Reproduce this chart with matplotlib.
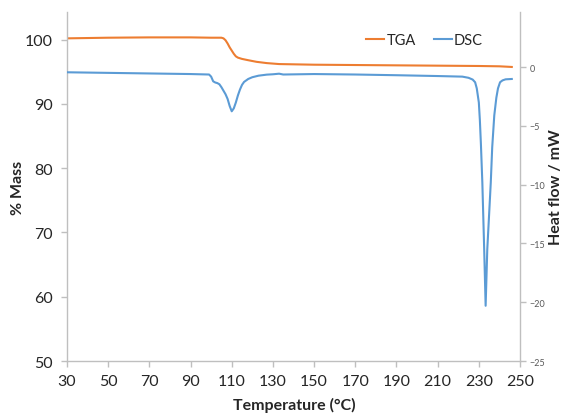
"""
TGA / DSC thermogram: mass loss and heat flow against temperature.
"""

import numpy as np
import matplotlib
matplotlib.use("Agg")
import matplotlib.pyplot as plt

# TGA curve (% mass)
tga_temp = [30, 50, 70, 90, 100, 105, 106, 107, 108, 109, 110, 111, 112, 113,
            115, 118, 122, 127, 133, 150, 170, 190, 210, 230, 240, 246]
tga_mass = [100.2, 100.3, 100.35, 100.35, 100.3, 100.3, 100.2, 99.9, 99.4,
            98.8, 98.3, 97.8, 97.4, 97.2, 97.0, 96.8, 96.55, 96.35, 96.2,
            96.1, 96.05, 96.0, 95.95, 95.9, 95.85, 95.75]

# DSC curve (heat flow, mW)
dsc_temp = [30, 50, 70, 90, 99, 100, 101, 102, 103, 104, 105, 106, 107, 108,
            109, 110, 111, 112, 113, 114, 115, 116, 118, 120, 123, 127, 130,
            133, 135, 150, 170, 190, 210, 222, 225, 227, 228.2, 229, 230,
            230.5, 231, 231.7, 232.6, 233.3, 234.1, 235, 235.8, 236.5, 237.5,
            238.5, 239.3, 240.3, 241.5, 243, 246]
dsc_flow = [-0.43, -0.48, -0.53, -0.58, -0.62, -0.8, -1.2, -1.3, -1.35, -1.45,
            -1.7, -2.0, -2.3, -2.7, -3.3, -3.75, -3.5, -3.0, -2.4, -1.9, -1.5,
            -1.25, -1.0, -0.85, -0.72, -0.63, -0.6, -0.55, -0.62, -0.58,
            -0.62, -0.68, -0.75, -0.8, -0.9, -1.05, -1.28, -1.8, -3.0, -4.5,
            -6.5, -9.8, -15.5, -20.3, -15.5, -12.5, -9.8, -6.8, -4.1, -2.6,
            -1.8, -1.28, -1.12, -1.03, -1.0]

x_ticks = list(range(30, 251, 20))
mass_ticks = [50, 60, 70, 80, 90, 100]
flow_ticks = [-25, -20, -15, -10, -5, 0]

ORANGE = "#ED7D31"
BLUE = "#5B9BD5"
GREY = "#BFBFBF"
TXT = "#262626"

plt.rcParams["font.family"] = ["Lato", "DejaVu Sans"]

fig = plt.figure(figsize=(5.62, 4.14), dpi=100)
ax = fig.add_axes([0.1192, 0.1256, 0.8061, 0.843])
ax2 = ax.twinx()

l1, = ax.plot(tga_temp, tga_mass, color=ORANGE, lw=1.5, label="TGA")
l2, = ax2.plot(dsc_temp, dsc_flow, color=BLUE, lw=1.5, label="DSC")

ax.set_xlim(30, 250)
ax.set_ylim(50, 104.3)
ax2.set_ylim(-25, 4.7)
ax.set_xticks(x_ticks)
ax.set_yticks(mass_ticks)
ax2.set_yticks(flow_ticks)

for a in (ax, ax2):
    for s in a.spines.values():
        s.set_visible(False)
ax.spines["left"].set_visible(True)
ax.spines["bottom"].set_visible(True)
ax2.spines["right"].set_visible(True)
for s in (ax.spines["left"], ax.spines["bottom"], ax2.spines["right"]):
    s.set_color(GREY)
    s.set_linewidth(1.0)

ax.tick_params(axis="both", colors=GREY, labelcolor=TXT, labelsize=11.5,
               length=4, width=1.0)
ax.tick_params(axis="x", pad=5)
ax.tick_params(axis="y", pad=6)
ax2.tick_params(axis="y", colors=GREY, labelcolor="#595959", labelsize=6.5,
                length=4, width=1.0, pad=3)

ax.set_xlabel("Temperature (\u00b0C)", fontsize=11.5, fontweight="bold",
              color=TXT)
ax.xaxis.set_label_coords(0.501, -0.103)
ax.set_ylabel("% Mass", fontsize=11.5, fontweight="bold", color=TXT)
ax.yaxis.set_label_coords(-0.093, 0.5)
ax2.set_ylabel("Heat flow / mW", fontsize=11.5, fontweight="bold",
               color=TXT)
ax2.yaxis.set_label_coords(1.065, 0.5)

ax.legend(handles=[l1, l2], loc="upper right", bbox_to_anchor=(0.918, 0.94),
          ncol=2, frameon=False, fontsize=10.5, handlelength=1.23,
          handletextpad=0.14, columnspacing=1.25, borderpad=0,
          borderaxespad=0, labelcolor=TXT)

fig.savefig("out.png", dpi=100)
